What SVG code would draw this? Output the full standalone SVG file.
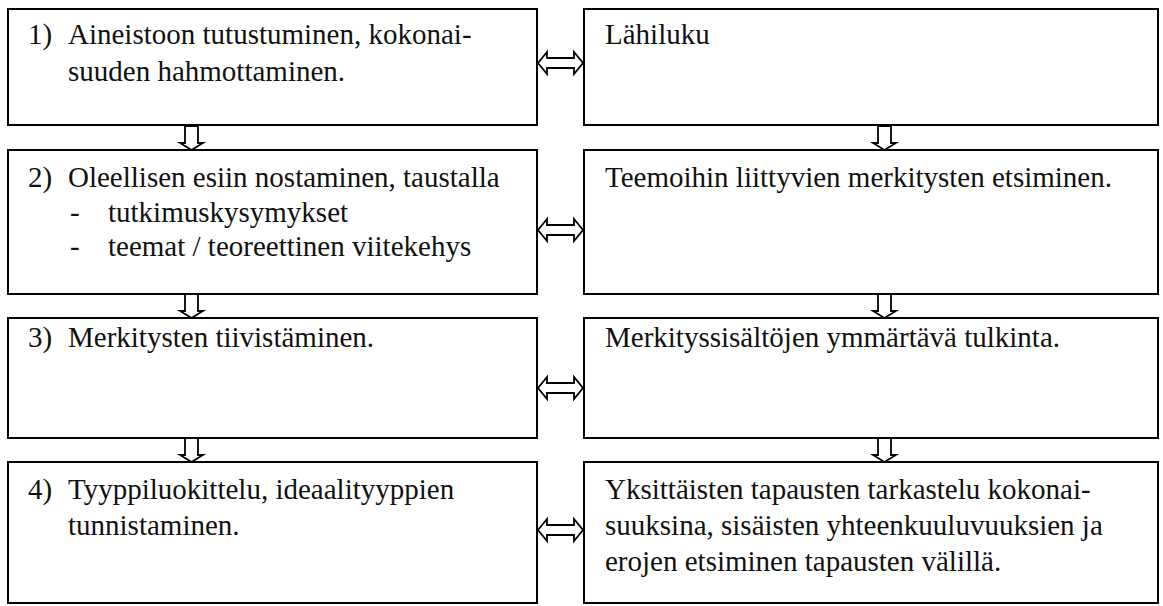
<svg xmlns="http://www.w3.org/2000/svg" width="1163" height="606" viewBox="0 0 1163 606">
<defs>
<polygon id="down" points="-6.5,0 6.5,0 6.5,17 11.5,17 0,24 -11.5,17 -6.5,17" fill="#fff" stroke="#000" stroke-width="1.8"/>
<polygon id="both" points="0,0 9,-11 9,-5 36,-5 36,-11 45,0 36,11 36,5 9,5 9,11" fill="#fff" stroke="#000" stroke-width="1.8"/>
</defs>
<rect width="1163" height="606" fill="#fff"/>
<g id="connectors">
<use href="#down" x="191.5" y="126"/>
<use href="#down" x="191.5" y="294"/>
<use href="#down" x="191.5" y="438"/>
<use href="#down" x="884.5" y="126"/>
<use href="#down" x="884.5" y="294"/>
<use href="#down" x="884.5" y="438"/>
<use href="#both" x="538" y="63"/>
<use href="#both" x="538" y="230"/>
<use href="#both" x="538" y="388"/>
<use href="#both" x="538" y="530"/>
</g>
<g id="n1"><rect x="8" y="9" width="529" height="116" fill="#fff" stroke="#000" stroke-width="2"/>
<text font-family="Liberation Serif" font-size="29" fill="#111" x="28" y="44">1)</text><text font-family="Liberation Serif" font-size="29" fill="#111" x="68" y="44">Aineistoon tutustuminen, kokonai-</text><text font-family="Liberation Serif" font-size="29" fill="#111" x="68" y="81">suuden hahmottaminen.</text></g>
<g id="n2"><rect x="8" y="150" width="529" height="144" fill="#fff" stroke="#000" stroke-width="2"/>
<text font-family="Liberation Serif" font-size="29" fill="#111" x="28" y="187">2)</text><text font-family="Liberation Serif" font-size="29" fill="#111" x="68" y="187">Oleellisen esiin nostaminen, taustalla</text>
<text font-family="Liberation Serif" font-size="29" fill="#111" x="70" y="222">-</text><text font-family="Liberation Serif" font-size="29" fill="#111" x="108" y="222">tutkimuskysymykset</text>
<text font-family="Liberation Serif" font-size="29" fill="#111" x="70" y="256">-</text><text font-family="Liberation Serif" font-size="29" fill="#111" x="108" y="256">teemat / teoreettinen viitekehys</text></g>
<g id="n3"><rect x="8" y="318" width="529" height="120" fill="#fff" stroke="#000" stroke-width="2"/>
<text font-family="Liberation Serif" font-size="29" fill="#111" x="28" y="347">3)</text><text font-family="Liberation Serif" font-size="29" fill="#111" x="68" y="347">Merkitysten tiivistäminen.</text></g>
<g id="n4"><rect x="8" y="462" width="529" height="141" fill="#fff" stroke="#000" stroke-width="2"/>
<text font-family="Liberation Serif" font-size="29" fill="#111" x="28" y="499">4)</text><text font-family="Liberation Serif" font-size="29" fill="#111" x="68" y="499">Tyyppiluokittelu, ideaalityyppien</text><text font-family="Liberation Serif" font-size="29" fill="#111" x="68" y="535">tunnistaminen.</text></g>
<g id="m1"><rect x="584" y="9" width="574" height="116" fill="#fff" stroke="#000" stroke-width="2"/>
<text font-family="Liberation Serif" font-size="29" fill="#111" x="605" y="44">Lähiluku</text></g>
<g id="m2"><rect x="584" y="150" width="574" height="144" fill="#fff" stroke="#000" stroke-width="2"/>
<text font-family="Liberation Serif" font-size="29" fill="#111" x="605" y="187">Teemoihin liittyvien merkitysten etsiminen.</text></g>
<g id="m3"><rect x="584" y="318" width="574" height="120" fill="#fff" stroke="#000" stroke-width="2"/>
<text font-family="Liberation Serif" font-size="29" fill="#111" x="605" y="347">Merkityssisältöjen ymmärtävä tulkinta.</text></g>
<g id="m4"><rect x="584" y="462" width="574" height="141" fill="#fff" stroke="#000" stroke-width="2"/>
<text font-family="Liberation Serif" font-size="29" fill="#111" x="605" y="499">Yksittäisten tapausten tarkastelu kokonai-</text><text font-family="Liberation Serif" font-size="29" fill="#111" x="605" y="535">suuksina, sisäisten yhteenkuuluvuuksien ja</text><text font-family="Liberation Serif" font-size="29" fill="#111" x="605" y="571">erojen etsiminen tapausten välillä.</text></g>
</svg>
